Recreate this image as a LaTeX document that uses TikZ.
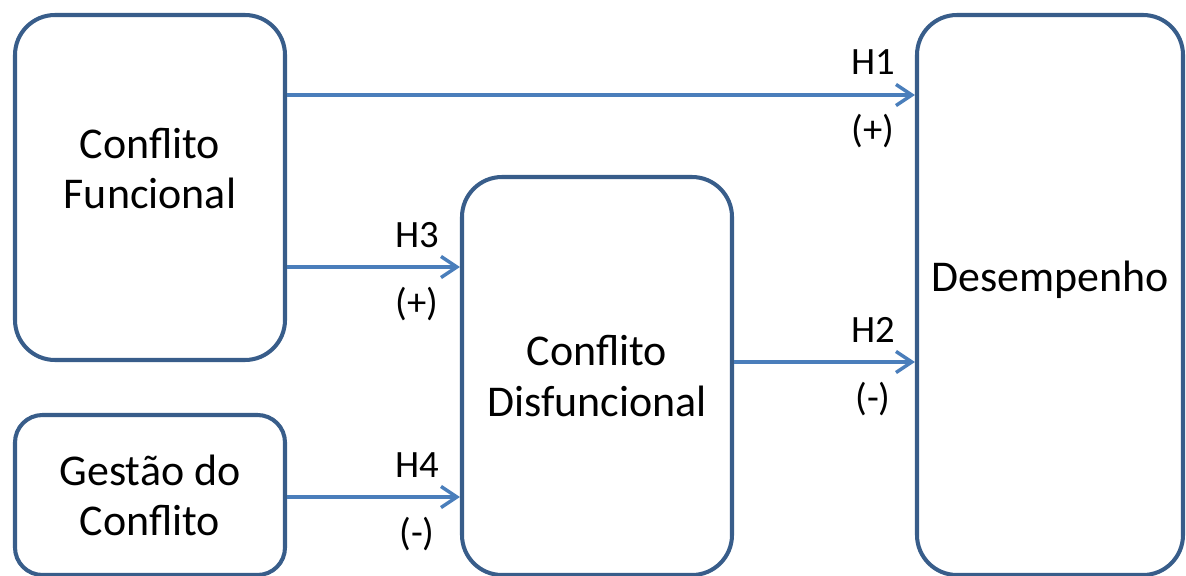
\documentclass[tikz,border=0pt]{standalone}
\usepackage{fontspec}
\setmainfont{Carlito}
\usetikzlibrary{arrows.meta,calc}
\definecolor{boxline}{HTML}{385D8A}
\definecolor{arrline}{HTML}{4A7EBB}
\tikzset{
  factor/.style={draw=boxline,line width=2.3pt,fill=white,align=center,
    inner sep=0pt,font=\fontsize{25}{28.5}\selectfont},
  link/.style={draw=arrline,line width=2pt,-{Straight Barb[length=9pt,width=12pt]}},
  hyp/.style={anchor=base,font=\fontsize{22}{25}\selectfont}
}
\begin{document}
\begin{tikzpicture}
\useasboundingbox (0,0) rectangle (23.72,-11.52);
% boxes
\node[factor,minimum width=5.4cm,minimum height=6.9cm,rounded corners=0.8cm,text depth=0.78cm] (func) at (3.0,-3.75) {Conflito\\Funcional};
\node[factor,minimum width=5.4cm,minimum height=3.2cm,rounded corners=0.55cm] (gest) at (3.0,-9.9) {Gestão do\\Conflito};
\node[factor,minimum width=5.4cm,minimum height=7.96cm,rounded corners=0.8cm] (disf) at (11.94,-7.52) {Conflito\\Disfuncional};
\node[factor,minimum width=5.32cm,minimum height=11.2cm,rounded corners=0.8cm,text depth=0.74cm] (desemp) at (21.0,-5.9) {Desempenho};
% rows of the arrows
\coordinate (r1) at (0,-1.9);
\coordinate (r2) at (0,-7.24);
\coordinate (r3) at (0,-5.34);
\coordinate (r4) at (0,-9.94);
% arrows
\draw[link] (func.east |- r1) -- (desemp.west |- r1);
\draw[link] (disf.east |- r2) -- (desemp.west |- r2);
\draw[link] (func.east |- r3) -- (disf.west |- r3);
\draw[link] (gest.east |- r4) -- (disf.west |- r4);
% labels
\node[hyp] (h1) at ($(desemp.west |- r1)+(-0.84,0.4)$) {H1};
\node[hyp] (s1) at ($(desemp.west |- r1)+(-0.84,-0.96)$) {(+)};
\node[hyp] (h2) at ($(desemp.west |- r2)+(-0.84,0.4)$) {H2};
\node[hyp] (s2) at ($(desemp.west |- r2)+(-0.84,-0.96)$) {(-)};
\node[hyp] (h3) at ($(disf.west |- r3)+(-0.86,0.4)$) {H3};
\node[hyp] (s3) at ($(disf.west |- r3)+(-0.86,-0.96)$) {(+)};
\node[hyp] (h4) at ($(disf.west |- r4)+(-0.86,0.4)$) {H4};
\node[hyp] (s4) at ($(disf.west |- r4)+(-0.86,-0.96)$) {(-)};
\end{tikzpicture}
\end{document}
